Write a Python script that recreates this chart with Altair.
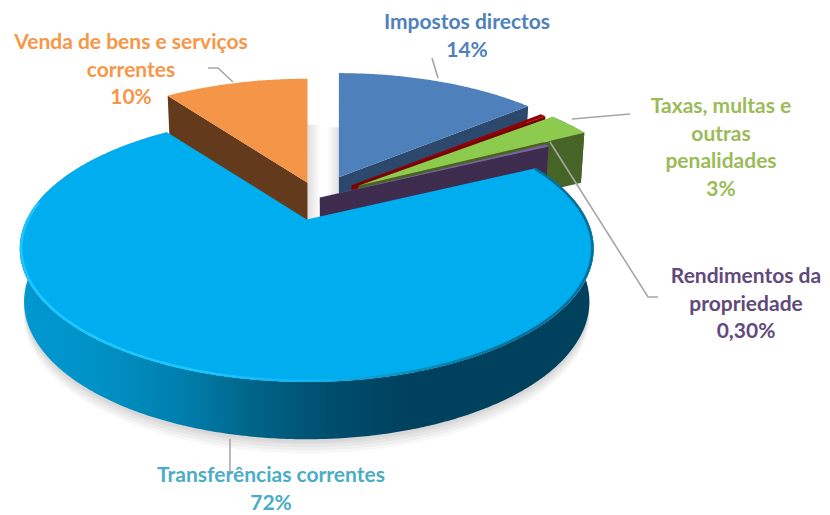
import math
import altair as alt

# ---- values ----
categories = ["Impostos directos", "Outros", "Taxas, multas e\noutras\npenalidades",
              "Rendimentos da\npropriedade", "Transferências correntes",
              "Venda de bens e serviços\ncorrentes"]
shares = [14.0, 0.4, 3.0, 0.3, 72.3, 10.0]
share_labels = ["14%", "", "3%", "0,30%", "72%", "10%"]
label_colors = ["#4F81BD", "#C00000", "#9BBB59", "#604A7B", "#4BACC6", "#F79646"]
top_colors = ["#4E80BC", "#960000", "#8DCB4E", "#7B5FA3", "#00AEEF", "#F59547"]
wall_colors = ["#2C486C", "#7A0000", "#456425", "#3E2C4E", "#00425E", "#633A1B"]
explosions = [49, 43, 48, 2, 47, 34]

# ---- view of the tilted pie ----
OX, OY = 8, 8            # page margin
CX, CY = 318, 198
R, K, TILT = 280, 0.219, 0.453
APEX_TILT = 0.47
WALL = 52
BOTTOM_SHRINK = 0.985


def rim(theta, r=1.0):
    a = math.radians(theta)
    s = 1 / (1 + K * r * math.cos(a))
    return R * r * math.sin(a) * s, -R * r * TILT * math.cos(a) * s, s


def wall_h(theta):
    return WALL * rim(theta)[2] ** 0.4


def apex_of(mid, e):
    a = math.radians(mid)
    return CX + e * math.sin(a), CY - e * math.cos(a) * APEX_TILT


def px(p):
    return [p[0] - OX, p[1] - OY]


def shape(points, closed=True, **mark):
    pts = [px(p) for p in points]
    if closed:
        geom = {"type": "Polygon", "coordinates": [pts + [pts[0]]]}
    else:
        geom = {"type": "LineString", "coordinates": pts}
        mark.setdefault("filled", False)
    feature = {"type": "Feature", "properties": {}, "geometry": geom}
    return alt.Chart(alt.Data(values=[feature])).mark_geoshape(**mark).project(
        type="identity", scale=1, translate=[0, 0])


def hgrad(stops, x1=0, x2=1):
    return {"gradient": "linear", "x1": x1, "x2": x2, "y1": 0, "y2": 0,
            "stops": [{"offset": o, "color": c} for o, c in stops]}


# slice angles from the shares, clockwise from twelve o'clock
spans = []
run = 0.0
for v in shares:
    spans.append((run * 3.6, (run + v) * 3.6))
    run += v


def arc(t0, t1, ap, r=1.0):
    n = max(2, int(abs(t1 - t0)) * 2)
    out = []
    for i in range(n + 1):
        t = t0 + (t1 - t0) * i / n
        dx, dy, _ = rim(t, r)
        out.append((ap[0] + dx, ap[1] + dy))
    return out


def radial_wall(ap, theta):
    dx, dy, _ = rim(theta)
    h = wall_h(theta)
    c = (ap[0] + dx, ap[1] + dy)
    return [ap, c, (ap[0] + dx * BOTTOM_SHRINK, c[1] + h), (ap[0], ap[1] + h)]


def outer_wall(ap, t0, t1, extra=0.0):
    top = arc(t0, t1, ap)
    n = len(top) - 1
    bottom = []
    for i in range(n + 1):
        t = t0 + (t1 - t0) * i / n
        bottom.append((ap[0] + (top[i][0] - ap[0]) * BOTTOM_SHRINK, top[i][1] + wall_h(t) + extra))
    return top + bottom[::-1]


apices = [apex_of((a + b) / 2, e) for (a, b), e in zip(spans, explosions)]
layers = []

# soft shadows
I_BLUE, I_RED, I_GREEN, I_PUR, I_MAIN, I_OR = range(6)
for extra in (14, 11, 8, 5, 3):
    layers.append(shape(outer_wall(apices[I_MAIN], 70, 300, extra), fill="#000000", opacity=0.03))
for extra in (7, 4):
    layers.append(shape(outer_wall(apices[I_GREEN], spans[I_GREEN][0], spans[I_GREEN][1], extra),
                        fill="#000000", opacity=0.03))
ao, ab = apices[I_OR], apices[I_BLUE]
layers.append(shape([(ao[0], ao[1] - 58), (ao[0] + 13, ao[1] - 58), (ao[0] + 13, ao[1] + 45), (ao[0], ao[1] + 45)],
                    fill=hgrad([(0, "#DEDEDE"), (1, "#FFFFFF")])))
layers.append(shape([(ab[0] - 12, ab[1] - 50), (ab[0], ab[1] - 50), (ab[0], ab[1] + 40), (ab[0] - 12, ab[1] + 40)],
                    fill=hgrad([(0, "#FFFFFF"), (1, "#E0E0E0")])))

# orange
t0, t1 = spans[I_OR]
layers.append(shape(radial_wall(ao, t0), fill=wall_colors[I_OR]))
layers.append(shape([ao] + arc(t0, t1, ao), fill=top_colors[I_OR]))
# blue
t0, t1 = spans[I_BLUE]
layers.append(shape(radial_wall(ab, 0), fill=wall_colors[I_BLUE]))
layers.append(shape(radial_wall(ab, t1), fill=wall_colors[I_BLUE]))
layers.append(shape([ab] + arc(t0, t1, ab), fill=top_colors[I_BLUE]))
# red sliver
a = apices[I_RED]
t0, t1 = spans[I_RED]
layers.append(shape(radial_wall(a, t1), fill=wall_colors[I_RED]))
layers.append(shape([a] + arc(t0, t1, a), fill=top_colors[I_RED]))
# green
a = apices[I_GREEN]
t0, t1 = spans[I_GREEN]
layers.append(shape(radial_wall(a, t1), fill=wall_colors[I_GREEN]))
layers.append(shape(outer_wall(a, t0, t1), fill=wall_colors[I_GREEN]))
layers.append(shape([a] + arc(t0, t1, a), fill=top_colors[I_GREEN]))
# purple
a = apices[I_PUR]
t0, t1 = spans[I_PUR]
layers.append(shape(radial_wall(a, t1), fill=wall_colors[I_PUR]))
layers.append(shape([a] + arc(t0, t1, a), fill=top_colors[I_PUR]))
# big slice: outer wall with its sweep of light, then the face and bevel
a = apices[I_MAIN]
t0, t1 = spans[I_MAIN]
wall_fill = hgrad([(0, "#0098D0"), (0.12, "#0093C8"), (0.28, "#007FAE"), (0.40, "#006689"),
                   (0.55, "#004C6C"), (0.68, "#00425E"), (1, "#00425E")])
layers.append(shape(outer_wall(a, t0, t1), fill=wall_fill))
layers.append(shape([a] + arc(t0, t1, a), fill=top_colors[I_MAIN]))
layers.append(shape(arc(t0, 278, a, 0.995), closed=False, strokeWidth=2.5,
                    stroke=hgrad([(0, "#1CC6FF"), (0.3, "#1CC6FF"), (0.52, "#12B4F0"),
                                  (0.68, "#0A8FBF"), (0.85, "#0A6F98"), (1, "#0A6F98")])))

# leader lines
leaders = [
    [(432, 58), (438, 78)],
    [(572, 119), (630, 114)],
    [(550, 142), (648, 297), (658, 297)],
    [(230, 439), (230, 474)],
    [(208, 68), (218, 68), (233, 82)],
]
for line in leaders:
    layers.append(shape(line, closed=False, stroke="#A6A6A6", strokeWidth=1.6))

# labels (centre of the first line)
label_pos = {0: (467, 23), 2: (721, 107), 3: (746, 277), 4: (271, 476), 5: (131, 43)}
for i, (x, y) in label_pos.items():
    text = categories[i] + "\n" + share_labels[i]
    layers.append(
        alt.Chart(alt.Data(values=[{"t": text}])).mark_text(
            font="Lato", fontWeight="bold", fontSize=21, lineBreak="\n", lineHeight=27.6,
            align="center", baseline="middle", color=label_colors[i],
            x=x - OX, y=y - OY,
        ).encode(text="t:N")
    )

chart = alt.layer(*layers).properties(
    width=814, height=507, padding=0, background="#FFFFFF",
    autosize=alt.AutoSizeParams(type="none"),
).configure_view(stroke=None)

chart.save("out.html", embed_options={"renderer": "svg", "actions": False})
